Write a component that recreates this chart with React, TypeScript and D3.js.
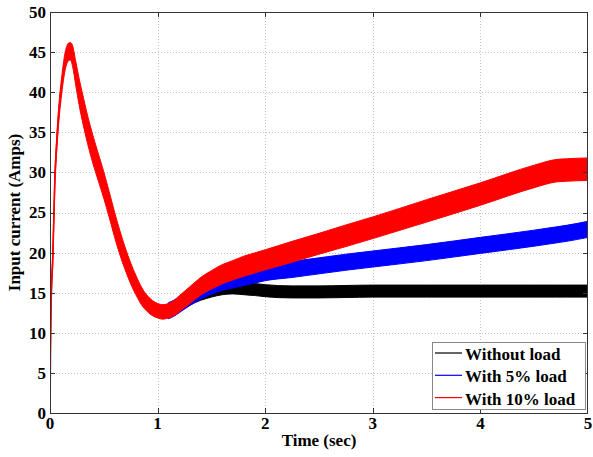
import React from "react";
import * as d3 from "d3";

// Start-up transient, shared by all three cases (s, A)
const transientTime = [0, 0.004, 0.008, 0.015, 0.025, 0.035, 0.045, 0.06, 0.08, 0.11, 0.14, 0.17, 0.19, 0.21, 0.24, 0.27, 0.3, 0.35, 0.4, 0.45, 0.5, 0.55, 0.6, 0.65, 0.7, 0.75, 0.8, 0.85, 0.9, 0.95, 1.0, 1.05, 1.1, 1.15];
const transientCurrent = [0, 7, 12, 16, 19, 24, 29, 33, 37, 41, 43.8, 45.0, 45.1, 44.5, 42.3, 40.1, 38.2, 35.3, 32.8, 30.6, 28.4, 26, 23.5, 21.2, 19.2, 17.4, 15.9, 14.6, 13.7, 13.1, 12.75, 12.6, 12.75, 13.05];
// Peak-to-peak ripple during the transient (A)
const transientRipple = [1.2, 1.2, 1.3, 1.4, 1.5, 1.6, 1.7, 1.8, 2.0, 2.1, 2.2, 2.2, 2.2, 2.6, 3.0, 3.3, 3.5, 3.5, 3.5, 3.4, 3.3, 3.2, 3.1, 3.0, 2.8, 2.6, 2.4, 2.2, 2.0, 1.9, 1.8, 1.8, 1.8, 1.9];

// After the transient the three load cases separate
const tailTime = [1.2, 1.3, 1.4, 1.5, 1.6, 1.7, 1.8, 1.9, 2.0, 2.25, 2.5, 2.75, 3.0, 3.5, 4.0, 4.5, 4.7, 4.8, 5.0];
const noLoadCurrent = [13.4, 14.2, 14.8, 15.2, 15.5, 15.6, 15.5, 15.4, 15.25, 15.1, 15.1, 15.15, 15.2, 15.2, 15.2, 15.2, 15.2, 15.2, 15.2];
const load5Current = [13.5, 14.4, 15.2, 15.8, 16.3, 16.6, 16.9, 17.2, 17.5, 17.9, 18.35, 18.8, 19.2, 20.0, 20.9, 21.8, 22.2, 22.4, 22.9];
const load10Current = [13.6, 14.7, 15.8, 16.6, 17.3, 17.8, 18.3, 18.7, 19.1, 20.1, 21.1, 22.1, 23.1, 25.2, 27.3, 29.5, 30.2, 30.3, 30.4];

// Peak-to-peak ripple of each trace after the transient (A)
const noLoadRipple = 1.5;
const load5Ripple = 2.0;
const load10Ripple = [2.0, 2.1, 2.2, 2.3, 2.4, 2.4, 2.5, 2.5, 2.5, 2.6, 2.6, 2.7, 2.7, 2.8, 2.8, 2.8, 2.8, 2.8, 2.8];

const seriesNames = ["Without load", "With 5% load", "With 10% load"];
const seriesColors = ["#000000", "#0000ff", "#ff0000"];

const xTicks = [0, 1, 2, 3, 4, 5];
const yTicks = [0, 5, 10, 15, 20, 25, 30, 35, 40, 45, 50];

type Pt = { t: number; v: number; r: number };

function buildSeries(tail: number[], ripple: number | number[], withTransient: boolean): Pt[] {
  const pts: Pt[] = [];
  const rip = (i: number) => (typeof ripple === "number" ? ripple : ripple[i]);
  const start = withTransient ? 0 : transientTime.length - 2;
  for (let i = start; i < transientTime.length; i++)
    pts.push({
      t: transientTime[i],
      v: transientCurrent[i],
      r: withTransient ? transientRipple[i] : rip(0),
    });
  tailTime.forEach((t, i) => pts.push({ t, v: tail[i], r: rip(i) }));
  return pts;
}

const W = 593;
const H = 457;
const FONT = "'Liberation Serif', 'Times New Roman', Times, serif";

export default function App() {
  const x = d3.scaleLinear().domain([0, 5]).range([50, 588]);
  const y = d3.scaleLinear().domain([0, 50]).range([413, 12]);

  const series = [
    buildSeries(noLoadCurrent, noLoadRipple, false),
    buildSeries(load5Current, load5Ripple, false),
    buildSeries(load10Current, load10Ripple, true),
  ];

  const band = d3
    .area<Pt>()
    .x((d) => x(d.t))
    .y0((d) => y(Math.max(0, d.v - d.r / 2)))
    .y1((d) => y(d.v + d.r / 2))
    .curve(d3.curveMonotoneX);

  const centre = d3
    .line<Pt>()
    .x((d) => x(d.t))
    .y((d) => y(d.v))
    .curve(d3.curveMonotoneX);

  const [x0, x1] = x.range();
  const [y0, y1] = y.range();
  const tick = 5;

  return (
    <svg
      width={W}
      height={H}
      style={{ position: "fixed", left: 0, top: 0, background: "#fff", fontFamily: FONT }}
    >
      <rect x={0} y={0} width={W} height={H} fill="#fff" />

      {/* dotted grid */}
      <g stroke="#c4c4c4" strokeWidth={1} strokeDasharray="1,2">
        {xTicks.slice(1, -1).map((t) => (
          <line key={"gx" + t} x1={Math.round(x(t)) + 0.5} x2={Math.round(x(t)) + 0.5} y1={y1} y2={y0} />
        ))}
        {yTicks.slice(1, -1).map((t) => (
          <line key={"gy" + t} x1={x0} x2={x1} y1={Math.round(y(t)) + 0.5} y2={Math.round(y(t)) + 0.5} />
        ))}
      </g>

      {/* traces */}
      <defs>
        <clipPath id="plotArea">
          <rect x={x0} y={y1} width={x1 - x0} height={y0 - y1} />
        </clipPath>
      </defs>
      <g clipPath="url(#plotArea)">
        {series.map((s, i) => (
          <g key={seriesNames[i]}>
            <path d={band(s) ?? ""} fill={seriesColors[i]} stroke={seriesColors[i]} strokeWidth={1} />
            <path d={centre(s) ?? ""} fill="none" stroke={seriesColors[i]} strokeWidth={1.6} />
          </g>
        ))}
      </g>

      {/* axes box and inward ticks */}
      <g stroke="#333" strokeWidth={1} fill="none">
        <rect x={x0 + 0.5} y={y1 + 0.5} width={x1 - x0 - 1} height={y0 - y1} />
        {xTicks.slice(1, -1).map((t) => {
          const px = Math.round(x(t)) + 0.5;
          return (
            <g key={"tx" + t}>
              <line x1={px} x2={px} y1={y0} y2={y0 - tick} />
              <line x1={px} x2={px} y1={y1} y2={y1 + tick} />
            </g>
          );
        })}
        {yTicks.slice(1, -1).map((t) => {
          const py = Math.round(y(t)) + 0.5;
          return (
            <g key={"ty" + t}>
              <line x1={x0} x2={x0 + tick} y1={py} y2={py} />
              <line x1={x1} x2={x1 - tick} y1={py} y2={py} />
            </g>
          );
        })}
      </g>

      {/* tick labels */}
      <g fontSize={17} fontWeight="bold" fill="#000">
        {xTicks.map((t) => (
          <text key={"lx" + t} x={x(t)} y={429} textAnchor="middle">
            {t}
          </text>
        ))}
        {yTicks.map((t) => (
          <text key={"ly" + t} x={46} y={y(t)} dy="0.35em" textAnchor="end">
            {t}
          </text>
        ))}
      </g>

      {/* axis titles */}
      <text x={(x0 + x1) / 2} y={446} textAnchor="middle" fontSize={17} fontWeight="bold">
        Time (sec)
      </text>
      <text
        transform={`translate(20, ${(y0 + y1) / 2}) rotate(-90)`}
        textAnchor="middle"
        fontSize={17}
        fontWeight="bold"
      >
        Input current (Amps)
      </text>

      {/* legend */}
      <g>
        <rect x={432.5} y={342.5} width={153} height={67} fill="#fff" stroke="#888" strokeWidth={1} />
        {seriesNames.map((name, i) => {
          const ly = 353 + i * 22.3;
          return (
            <g key={"lg" + name}>
              <line x1={435} x2={462} y1={ly} y2={ly} stroke={seriesColors[i]} strokeWidth={1.2} />
              <text x={465} y={ly + 7} fontSize={17} fontWeight="bold">
                {name}
              </text>
            </g>
          );
        })}
      </g>
    </svg>
  );
}
